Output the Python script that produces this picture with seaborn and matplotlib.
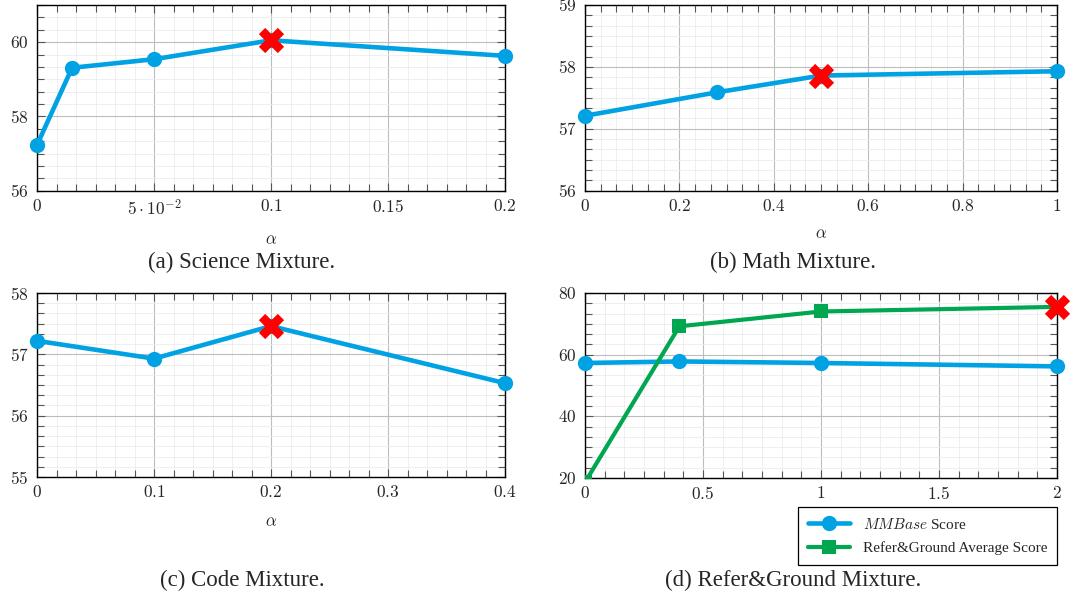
import numpy as np
import pandas as pd
import matplotlib
matplotlib.use('Agg')
import matplotlib.pyplot as plt
import seaborn as sns
from matplotlib.ticker import AutoMinorLocator, FixedLocator

# (a) Science mixture
sci_alpha = [0, 0.015, 0.05, 0.1, 0.2]
sci_score = [57.23, 59.31, 59.54, 60.05, 59.63]
# (b) Math mixture
math_alpha = [0, 0.28, 0.5, 1.0]
math_score = [57.21, 57.59, 57.86, 57.93]
# (c) Code mixture
code_alpha = [0, 0.1, 0.2, 0.4]
code_score = [57.22, 56.93, 57.46, 56.53]
# (d) Refer&Ground mixture
rg_alpha = [0, 0.4, 1.0, 2.0]
rg_mmbase = [57.3, 57.8, 57.3, 56.2]
rg_refer = [18.6, 69.2, 74.0, 75.5]

# best setting per panel (red cross)
best_alpha = [0.1, 0.5, 0.2, 2.0]
best_score = [60.05, 57.86, 57.46, 75.5]

# axis ticks / limits
sci_xticks = [0, 0.05, 0.1, 0.15, 0.2]
sci_xlabels = ['0', r'5\cdot10^{-2}', '0.1', '0.15', '0.2']
sci_yticks = [56, 58, 60]
math_xticks = [0, 0.2, 0.4, 0.6, 0.8, 1]
math_xlabels = ['0', '0.2', '0.4', '0.6', '0.8', '1']
math_yticks = [56, 57, 58, 59]
code_xticks = [0, 0.1, 0.2, 0.3, 0.4]
code_xlabels = ['0', '0.1', '0.2', '0.3', '0.4']
code_yticks = [55, 56, 57, 58]
rg_xticks = [0, 0.5, 1, 1.5, 2]
rg_xlabels = ['0', '0.5', '1', '1.5', '2']
rg_yticks = [20, 40, 60, 80]

captions = ['(a) Science Mixture.', '(b) Math Mixture.', '(c) Code Mixture.',
            '(d) Refer&Ground Mixture.']

BLUE = '#00a2e3'
GREEN = '#00a650'
RED = '#ff0000'

sns.set_style('ticks')
plt.rcParams['font.family'] = 'serif'
plt.rcParams['font.serif'] = ['Liberation Serif', 'DejaVu Serif']
plt.rcParams['mathtext.fontset'] = 'cm'

fig = plt.figure(figsize=(10.86, 5.94), dpi=100)
W, H = 1086, 594


def px_axes(left, top, right, bottom):
    return fig.add_axes([left / W, 1 - bottom / H, (right - left) / W, (bottom - top) / H])


ax_a = px_axes(37, 5, 505, 190.7)
ax_b = px_axes(585, 5, 1057, 190.7)
ax_c = px_axes(37, 293, 505, 477)
ax_d = px_axes(585, 293, 1057, 478)


def style_axes(ax, xlim, ylim, xticks, xlabels, yticks):
    ax.set_xlim(*xlim)
    ax.set_ylim(*ylim)
    ax.xaxis.set_major_locator(FixedLocator(xticks))
    ax.set_xticklabels(['$' + s + '$' for s in xlabels])
    ax.yaxis.set_major_locator(FixedLocator(yticks))
    ax.set_yticklabels(['$%d$' % v for v in yticks])
    ax.xaxis.set_minor_locator(AutoMinorLocator(6))
    ax.yaxis.set_minor_locator(AutoMinorLocator(6))
    ax.grid(True, which='major', color='#bdbdbd', lw=0.8, zorder=0)
    ax.grid(True, which='minor', color='#ececec', lw=0.6, zorder=0)
    ax.set_axisbelow(True)
    ax.tick_params(which='both', direction='in', top=True, right=True,
                   color='#555555', width=0.8, labelsize=12.5, pad=6)
    ax.tick_params(which='major', length=6)
    ax.tick_params(which='minor', length=5)
    for s in ax.spines.values():
        s.set_color('black')
        s.set_linewidth(1.0)


def draw_blue(ax, xs, ys, label=None):
    df = pd.DataFrame({'alpha': xs, 'score': ys})
    sns.lineplot(data=df, x='alpha', y='score', ax=ax, color=BLUE, lw=3.3,
                 marker='o', markersize=11, markeredgewidth=0,
                 clip_on=False, zorder=3, label=label)


def draw_best(ax, i):
    sns.scatterplot(x=[best_alpha[i]], y=[best_score[i]], ax=ax, color=RED,
                    marker='X', s=330, linewidth=0, clip_on=False, zorder=5)


draw_blue(ax_a, sci_alpha, sci_score)
draw_best(ax_a, 0)
style_axes(ax_a, (0, 0.2), (56, 61), sci_xticks, sci_xlabels, sci_yticks)

draw_blue(ax_b, math_alpha, math_score)
draw_best(ax_b, 1)
style_axes(ax_b, (0, 1), (56, 59), math_xticks, math_xlabels, math_yticks)

draw_blue(ax_c, code_alpha, code_score)
draw_best(ax_c, 2)
style_axes(ax_c, (0, 0.4), (55, 58), code_xticks, code_xlabels, code_yticks)

draw_blue(ax_d, rg_alpha, rg_mmbase, label=r'$\mathit{MMBase}$ Score')
df_rg = pd.DataFrame({'alpha': rg_alpha, 'score': rg_refer})
sns.lineplot(data=df_rg, x='alpha', y='score', ax=ax_d, color=GREEN, lw=3.0,
             marker='s', markersize=9.5, markeredgewidth=0, zorder=3,
             label='Refer&Ground Average Score')
draw_best(ax_d, 3)
style_axes(ax_d, (0, 2), (20, 80), rg_xticks, rg_xlabels, rg_yticks)

for ax in (ax_a, ax_b, ax_c, ax_d):
    ax.set_xlabel('')
    ax.set_ylabel('')

ax_a.set_xlabel(r'$\alpha$', fontsize=12)
ax_a.xaxis.set_label_coords(0.5, -0.225)
ax_b.set_xlabel(r'$\alpha$', fontsize=12)
ax_b.xaxis.set_label_coords(0.5, -0.19)
ax_c.set_xlabel(r'$\alpha$', fontsize=12)
ax_c.xaxis.set_label_coords(0.5, -0.2)

leg = ax_d.legend(loc='upper right', bbox_to_anchor=(1.0, -0.155), fontsize=11,
                  frameon=True, fancybox=False, edgecolor='black', framealpha=1,
                  handlelength=2.8, labelspacing=0.65, borderpad=0.65,
                  borderaxespad=0)
leg.get_frame().set_linewidth(0.9)

cap_pos = [(242, 262), (793, 262), (242, 580), (793, 580)]
for (cx, cy), txt in zip(cap_pos, captions):
    fig.text(cx / W, 1 - cy / H, txt, ha='center', va='center', fontsize=16.5)

fig.savefig('out.png', dpi=100)
